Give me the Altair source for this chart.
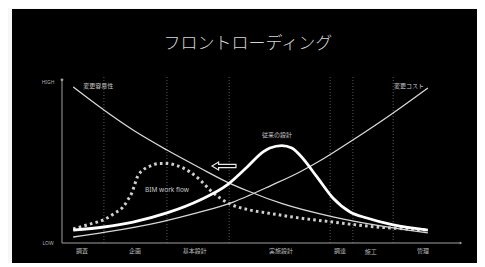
import altair as alt
import pandas as pd

# ---- data (x: project progress 0-100, y: LOW 0 .. HIGH 100) ----
ease_x = [2.8, 10.5, 17.8, 26.3, 34.6, 41.4, 46.6, 55.4, 67.9, 83.0, 91.7]
ease_y = [97.5, 83.1, 70.6, 58.1, 46.9, 38.1, 32.5, 24.4, 16.3, 9.4, 6.3]

cost_x = [2.8, 10.5, 24.6, 33.8, 42.9, 46.6, 52.1, 59.6, 65.4, 72.9, 83.0, 91.7]
cost_y = [3.75, 6.6, 13.1, 18.8, 25.6, 29.4, 35.6, 44.4, 52.5, 64.4, 81.3, 96.9]

trad_x = [2.8, 10.5, 17.8, 26.3, 34.6, 41.4, 46.4, 50.4, 52.1, 55.1, 57.6, 59.6, 63.9, 67.9, 72.2, 76.4, 83.0, 91.7]
trad_y = [8.1, 10.0, 13.1, 18.8, 26.9, 36.3, 47.5, 56.9, 59.4, 60.9, 59.4, 55.0, 41.3, 28.1, 19.4, 15.6, 11.3, 8.1]

bim_x = [2.8, 6.3, 11.3, 13.3, 15.3, 16.5, 17.5, 19.0, 20.3, 22.1, 24.6, 26.3, 28.3, 32.1, 34.6, 37.1, 39.6, 42.1, 47.1, 51.4, 59.6, 67.9, 76.4, 91.7]
bim_y = [8.8, 11.3, 15.6, 18.8, 22.5, 26.9, 31.3, 41.9, 45.6, 48.1, 49.7, 49.7, 48.8, 44.4, 39.4, 33.1, 28.1, 24.4, 20.6, 18.8, 15.6, 13.1, 10.6, 8.1]

phase_bounds = [10.5, 26.3, 41.9, 67.2, 72.9, 83.0]
phase_names = ["調査", "企画", "基本設計", "実施設計", "調達", "施工", "管理"]
phase_pos = [5.0, 18.3, 33.3, 54.9, 69.7, 77.4, 90.5]
phase_lab_y = [-5.0, -5.0, -5.0, -5.0, -5.0, -5.6, -5.0]

title_text = "フロントローディング"

X = alt.Scale(domain=[-12.53, 104.01], nice=False, zero=False)
Y = alt.Scale(domain=[-12.5, 146.25], nice=False, zero=False)

def xe(f="x"):
    return alt.X(f"{f}:Q", scale=X, axis=None)

def ye(f="y"):
    return alt.Y(f"{f}:Q", scale=Y, axis=None)

# vertical dotted phase separators
vdf = pd.DataFrame({"x": phase_bounds, "y": [0] * 6, "y2": [105] * 6})
vlines = alt.Chart(vdf).mark_rule(color="#5a5a5a", strokeWidth=1, strokeDash=[1, 2]).encode(
    x=xe(), y=ye(), y2="y2:Q")

# axes
axdf = pd.DataFrame({"x": [0, 0], "x2": [100, 0], "y": [0, 0], "y2": [0, 102]})
axes = alt.Chart(axdf).mark_rule(color="#a0a0a0", strokeWidth=1).encode(
    x=xe(), x2="x2:Q", y=ye(), y2="y2:Q")
headdf = pd.DataFrame({"x": [100, 0], "y": [0, 102], "s": ["triangle-right", "circle"]})
heads = alt.Chart(headdf).mark_point(filled=True, color="#a0a0a0", size=8, opacity=1).encode(
    x=xe(), y=ye(), shape=alt.Shape("s:N", scale=None, legend=None))

def curve(xs, ys, **kw):
    return alt.Chart(pd.DataFrame({"x": xs, "y": ys})).mark_line(
        interpolate="monotone", **kw).encode(x=xe(), y=ye())

ease = curve(ease_x, ease_y, color="#d8d8d8", strokeWidth=1.3)
cost = curve(cost_x, cost_y, color="#d8d8d8", strokeWidth=1.3)
trad = curve(trad_x, trad_y, color="#ffffff", strokeWidth=2.8)
bim = curve(bim_x, bim_y, color="#cfcfcf", strokeWidth=3, strokeDash=[2.6, 3.2])

# texts
def texts(df, **kw):
    return alt.Chart(df).mark_text(**kw).encode(x=xe(), y=ye(), text="t:N")

phase_txt = texts(pd.DataFrame({"x": phase_pos, "y": phase_lab_y, "t": phase_names}),
                  font="Noto Sans CJK JP", fontSize=6, color="#bdbdbd", baseline="middle")
hl_txt = texts(pd.DataFrame({"x": [-3.5, -3.5], "y": [100.6, 0.3], "t": ["HIGH", "LOW"]}),
               font="Noto Sans", fontSize=5, color="#b0b0b0", baseline="middle")
ease_lab = texts(pd.DataFrame({"x": [5.3], "y": [98.1], "t": ["変更容易性"]}),
                 font="Noto Sans CJK JP", fontSize=6, color="#c8c8c8", align="left", baseline="middle")
cost_lab = texts(pd.DataFrame({"x": [90.7], "y": [98.1], "t": ["変更コスト"]}),
                 font="Noto Sans CJK JP", fontSize=6, color="#c8c8c8", align="right", baseline="middle")
trad_lab = texts(pd.DataFrame({"x": [53.9], "y": [67.5], "t": ["従来の設計"]}),
                 font="Noto Sans CJK JP", fontSize=6, color="#c8c8c8", baseline="middle")
bim_lab = texts(pd.DataFrame({"x": [26.3], "y": [33.1], "t": ["BIM work flow"]}),
                font="Noto Sans", fontSize=6.5, color="#c8c8c8", baseline="middle")
title = texts(pd.DataFrame({"x": [46.6], "y": [124.4], "t": [title_text]}),
              font="Noto Sans CJK JP", fontSize=17, fontWeight=300, color="#d6d6d6", baseline="middle")

arrow_path = "M -1 0 L -0.45 -0.33 L -0.45 -0.14 L 1 -0.14 L 1 0.14 L -0.45 0.14 L -0.45 0.33 Z"
arrow = alt.Chart(pd.DataFrame({"x": [40.6], "y": [48.1]})).mark_point(
    shape=arrow_path, size=576, filled=False, stroke="#e8e8e8", strokeWidth=1.2, opacity=1
).encode(x=xe(), y=ye())

chart = alt.layer(
    vlines, axes, heads, ease, cost, bim, trad, arrow,
    phase_txt, hl_txt, ease_lab, cost_lab, trad_lab, bim_lab, title
).properties(
    width=465, height=254,
    autosize=alt.AutoSizeParams(type="none"),
    padding={"left": 4, "top": 1, "right": 0, "bottom": 0},
    background="#f7f7f7",
).configure_view(fill="#000000", stroke=None)

chart.save("out.html", embed_options={"renderer": "svg", "actions": False})
